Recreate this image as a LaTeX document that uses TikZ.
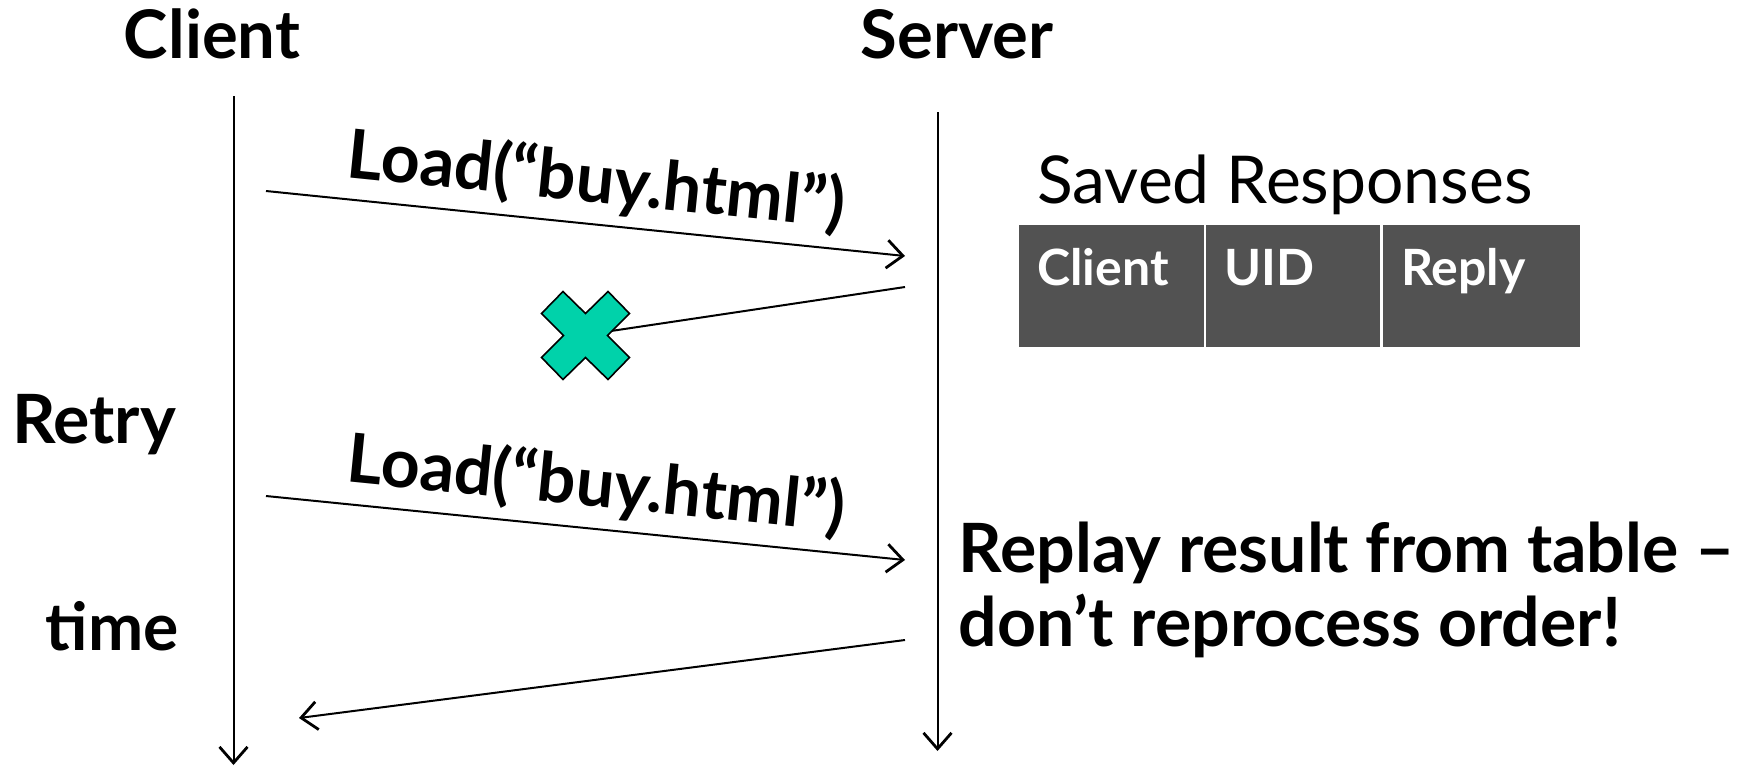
\documentclass[tikz,border=0pt]{standalone}
\usepackage{fontspec}
\setmainfont{Lato}
\usetikzlibrary{arrows.meta}
\definecolor{cellgray}{RGB}{82,82,82}
\definecolor{lostteal}{RGB}{0,210,170}
\tikzset{
  big/.style={font=\bfseries\fontsize{67}{74}\selectfont, inner sep=0pt},
  msgtext/.style={font=\bfseries\fontsize{68}{74}\selectfont, inner sep=0pt, text depth=0pt},
  lifeline/.style={line width=2pt, -{Straight Barb[length=16pt,width=28pt,line width=2.8pt]}},
  msg/.style={line width=2pt, -{Straight Barb[length=16pt,width=28pt,line width=2.8pt]}},
  cell/.style={fill=cellgray, draw=none},
  celltext/.style={font=\bfseries\fontsize{50}{56}\selectfont, text=white, inner sep=0pt, anchor=base west},
}
\begin{document}
\begin{tikzpicture}[x=1pt,y=-1pt]
\useasboundingbox (0,0) rectangle (1752,766);

% column titles
\node[big, anchor=base] (clientT) at (212,58) {Client};
\node[big, anchor=base] (serverT) at (957,58) {Server};

% lifelines
\coordinate (c0) at (233.5,96);
\coordinate (c1) at (233.5,765);
\coordinate (s0) at (937.5,112);
\coordinate (s1) at (937.5,751);
\draw[lifeline] (c0) -- (c1);
\draw[lifeline] (s0) -- (s1);

% first request
\coordinate (m1a) at (266,191);
\coordinate (m1b) at (905,256);
\draw[msg] (m1a) -- (m1b)
  node[msgtext, pos=0.51, sloped, above=21pt] (m1l) {Load(“buy.html”)};

% lost response
\coordinate (lostA) at (905,287);
\node (lost) at (585.5,335.5) {};
\draw[line width=2pt] (lostA) -- (611,331);
\draw[fill=lostteal, draw=black, line width=1.6pt, line join=miter, shift={(lost.center)}]
  (0,-22) -- (22.5,-44) -- (44,-22) -- (22,0) -- (44,22) -- (22.5,44) --
  (0,22) -- (-22.5,44) -- (-44,22) -- (-22,0) -- (-44,-22) -- (-22.5,-44) -- cycle;

% saved responses table
\node[font=\fontsize{66}{72}\selectfont, inner sep=0pt, anchor=base] (savedT) at (1285,203) {Saved Responses};
\fill[cell] (1019,225) rectangle (1203.5,347);
\fill[cell] (1206,225) rectangle (1380,347);
\fill[cell] (1382.5,225) rectangle (1580,347);
\node[celltext] (hClient) at (1037,285) {Client};
\node[celltext] (hUID) at (1224.5,285) {UID};
\node[celltext] (hReply) at (1401,285) {Reply};

% retry label
\node[big, font=\bfseries\fontsize{68}{74}\selectfont, anchor=base] (retry) at (94,443) {Retry};

% second request
\coordinate (m2a) at (266,496);
\coordinate (m2b) at (905,560);
\draw[msg] (m2a) -- (m2b)
  node[msgtext, pos=0.51, sloped, above=21pt] (m2l) {Load(“buy.html”)};

% replay note
\node[big, font=\bfseries\fontsize{68}{74}\selectfont, anchor=base west] (replay) at (958.5,572) {Replay result from table –};
\node[big, font=\bfseries\fontsize{68}{74}\selectfont, anchor=base west] (replay2) at (958.5,646) {don’t reprocess order!};

% time label
\node[big, font=\bfseries\fontsize{66}{72}\selectfont, anchor=base] (time) at (112,650) {time};

% reply
\coordinate (r0) at (905,640);
\coordinate (r1) at (299,718);
\draw[msg] (r0) -- (r1);
\end{tikzpicture}
\end{document}
